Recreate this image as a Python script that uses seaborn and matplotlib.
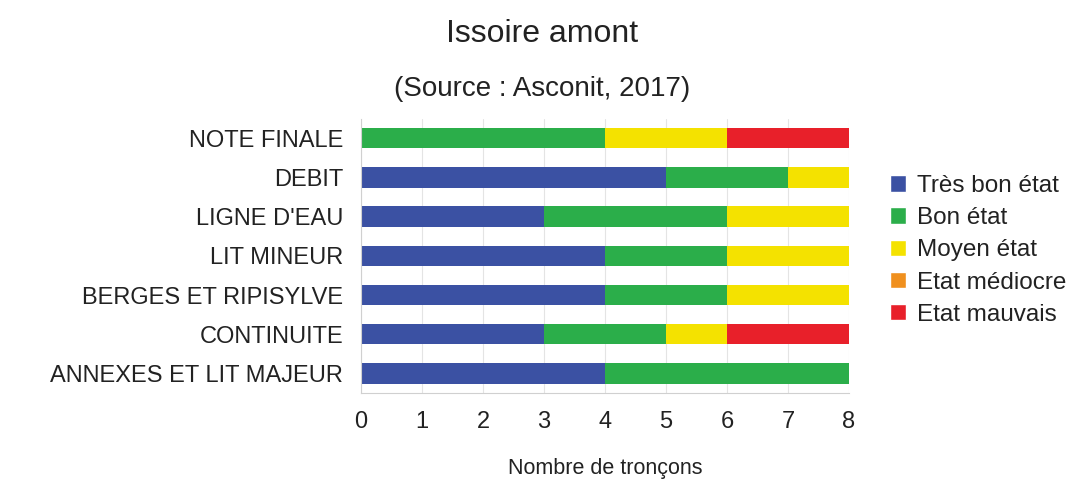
import matplotlib.pyplot as plt
import numpy as np
import pandas as pd
import seaborn as sns
from matplotlib.patches import Patch

categories = ["NOTE FINALE", "DEBIT", "LIGNE D'EAU", "LIT MINEUR",
              "BERGES ET RIPISYLVE", "CONTINUITE", "ANNEXES ET LIT MAJEUR"]
series = ["Très bon état", "Bon état", "Moyen état", "Etat médiocre", "Etat mauvais"]
tres_bon = [0, 5, 3, 4, 4, 3, 4]
bon = [4, 2, 3, 2, 2, 2, 4]
moyen = [2, 1, 2, 2, 2, 1, 0]
mediocre = [0, 0, 0, 0, 0, 0, 0]
mauvais = [2, 0, 0, 0, 0, 2, 0]
colors = ["#3b51a3", "#2bae4a", "#f4e200", "#f0901e", "#e8202a"]

sns.set_style("white")
plt.rcParams["font.family"] = ["Liberation Sans", "DejaVu Sans"]

df = pd.DataFrame({"cat": categories, "tb": tres_bon, "bon": bon, "moy": moyen,
                   "med": mediocre, "mau": mauvais})
cum = df[["tb", "bon", "moy", "med", "mau"]].cumsum(axis=1)

fig = plt.figure(figsize=(10.78, 4.8), dpi=100)
ax = fig.add_axes([0.335, 0.181, 0.4525, 0.572])

# draw cumulative totals from the last segment back so earlier ones overlay
for col, color in zip(reversed(cum.columns), reversed(colors)):
    sns.barplot(x=cum[col], y=df["cat"], color=color, width=0.52,
                orient="h", ax=ax, saturation=1, linewidth=0)

ax.set_xlim(0, 8)
ax.set_ylim(len(categories) - 0.5, -0.5)
ax.set_xticks(range(9))
ax.set_xticklabels([str(i) for i in range(9)], fontsize=17, color="#222222")
ax.tick_params(axis="x", length=5, color="#d0d0d0", pad=8)
ax.set_yticks(range(len(categories)))
ax.set_yticklabels(categories, fontsize=17, color="#222222")
ax.tick_params(axis="y", length=0, pad=13)
ax.set_yticks(np.arange(-0.5, len(categories), 1), minor=True)
ax.tick_params(axis="y", which="minor", length=7, color="#d0d0d0")
ax.grid(axis="x", color="#e4e4e4", linewidth=0.8)
ax.set_axisbelow(True)
for s in ["top", "right"]:
    ax.spines[s].set_visible(False)
for s in ["left", "bottom"]:
    ax.spines[s].set_color("#d0d0d0")
ax.set_ylabel("")
ax.set_xlabel("Nombre de tronçons", fontsize=15.5, labelpad=18, color="#222222")

fig.text(0.503, 0.93, "Issoire amont", ha="center", va="center", fontsize=23, color="#222222")
fig.text(0.503, 0.815, "(Source : Asconit, 2017)", ha="center", va="center", fontsize=20, color="#222222")

handles = [Patch(facecolor=c, label=s) for c, s in zip(colors, series)]
ax.legend(handles=handles, loc="center left", bbox_to_anchor=(1.04, 0.52),
          frameon=False, fontsize=17.5, handlelength=0.65, handleheight=0.65,
          handletextpad=0.45, labelspacing=0.42, labelcolor="#222222")

plt.savefig("out.png", dpi=100)
plt.close()
